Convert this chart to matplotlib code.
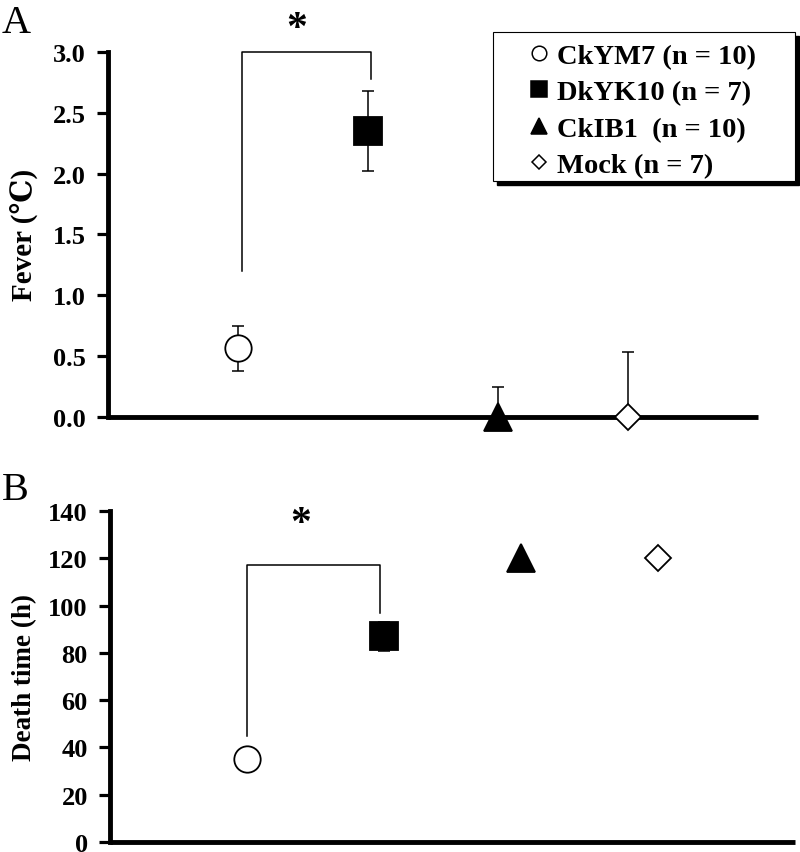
import matplotlib
matplotlib.use('Agg')
import matplotlib.pyplot as plt
from matplotlib.lines import Line2D
from matplotlib.patches import Rectangle

plt.rcParams['font.family'] = ['Liberation Serif', 'DejaVu Serif', 'Noto Sans CJK SC']
plt.rcParams['font.weight'] = 'bold'

# data
groups = ['CkYM7 (n = 10)', 'DkYK10 (n = 7)', 'CkIB1  (n = 10)', 'Mock (n = 7)']
xpos = [1, 2, 3, 4]
markers = ['o', 's', '^', 'D']
faces = ['white', 'black', 'black', 'white']
msizes = [19, 20, 20, 13.5]

fever = [0.565, 2.35, 0.0, 0.0]
fever_err = [0.185, 0.33, 0.25, 0.53]

death = [35, 87, 120, 120]
death_err = [0, 6, 0, 0]

fig = plt.figure(figsize=(8, 8.53), dpi=100)
axA = fig.add_axes([0.135, 0.510, 0.8125, 0.428])
axB = fig.add_axes([0.1375, 0.0117, 0.85625, 0.388])


def style_axis(ax):
    ax.spines['top'].set_visible(False)
    ax.spines['right'].set_visible(False)
    ax.spines['left'].set_linewidth(3.5)
    ax.spines['bottom'].set_linewidth(3.5)
    ax.spines['bottom'].set_capstyle('butt')
    ax.tick_params(axis='y', direction='out', length=8, width=2.3, labelsize=19, pad=8)
    ax.tick_params(axis='x', bottom=False, labelbottom=False)
    ax.set_xlim(0, 5)
    for lab in ax.get_yticklabels():
        lab.set_fontweight('bold')


def draw_points(ax, vals, errs):
    for i in range(len(xpos)):
        if errs[i] > 0:
            ax.errorbar(xpos[i], vals[i], yerr=errs[i], fmt='none', ecolor='black',
                        elinewidth=1.1, capsize=4.5, capthick=1.1, zorder=2)
        ax.plot(xpos[i], vals[i], marker=markers[i], markersize=msizes[i],
                markerfacecolor=faces[i], markeredgecolor='black', markeredgewidth=1.3,
                linestyle='none', clip_on=False, zorder=3)


# Panel A: fever
draw_points(axA, fever, fever_err)
axA.set_ylim(0, 3.0)
axA.set_yticks([0.0, 0.5, 1.0, 1.5, 2.0, 2.5, 3.0])
axA.set_yticklabels(['0.0', '0.5', '1.0', '1.5', '2.0', '2.5', '3.0'])
style_axis(axA)
axA.set_ylabel('Fever (℃)', fontsize=21, fontweight='bold')
axA.yaxis.set_label_coords(-0.107, 0.5)
axA.plot([1.03, 1.03, 2.02, 2.02], [1.2, 3.0, 3.0, 2.78], color='black', lw=1.1, clip_on=False)
axA.text(1.45, 3.19, '*', fontsize=30, ha='center', va='center', fontweight='bold')

# Panel B: death time
draw_points(axB, death, death_err)
axB.set_ylim(0, 140)
axB.set_yticks([0, 20, 40, 60, 80, 100, 120, 140])
style_axis(axB)
axB.set_ylabel('Death time (h)', fontsize=19.5, fontweight='bold')
axB.yaxis.set_label_coords(-0.107, 0.5)
axB.plot([1.0, 1.0, 1.97, 1.97], [45, 117, 117, 97], color='black', lw=1.1, clip_on=False)
axB.text(1.39, 134.5, '*', fontsize=30, ha='center', va='center', fontweight='bold')

# panel letters
fig.text(0.002, 1 - 33 / 853, 'A', fontsize=29, fontweight='normal', va='baseline')
fig.text(0.002, 1 - 500 / 853, 'B', fontsize=29, fontweight='normal', va='baseline')

# legend box with black shadow
x0, y0, x1, y1 = 493 / 800, 1 - 182 / 853, 795 / 800, 1 - 33 / 853
fig.patches.append(Rectangle((x0 + 4 / 800, y0 - 4 / 853), x1 - x0, y1 - y0,
                             transform=fig.transFigure, facecolor='black', edgecolor='black',
                             zorder=5))
fig.patches.append(Rectangle((x0, y0), x1 - x0, y1 - y0, transform=fig.transFigure,
                             facecolor='white', edgecolor='black', lw=0.8, zorder=6))

handles = []
leg_ms = [10.5, 11, 11.5, 7.5]
for i in range(len(groups)):
    handles.append(Line2D([], [], marker=markers[i], markersize=leg_ms[i], linestyle='none',
                          markerfacecolor=faces[i], markeredgecolor='black', markeredgewidth=1.1))
leg = fig.legend(handles, groups, loc='upper left', bbox_to_anchor=(525 / 800, 1 - 44 / 853),
                 frameon=False, fontsize=20.5, handlelength=1.0, handletextpad=0.12,
                 borderpad=0, borderaxespad=0, labelspacing=0.37)
leg.set_zorder(7)
for t in leg.get_texts():
    t.set_fontweight('bold')

fig.savefig('out.png', dpi=100)
